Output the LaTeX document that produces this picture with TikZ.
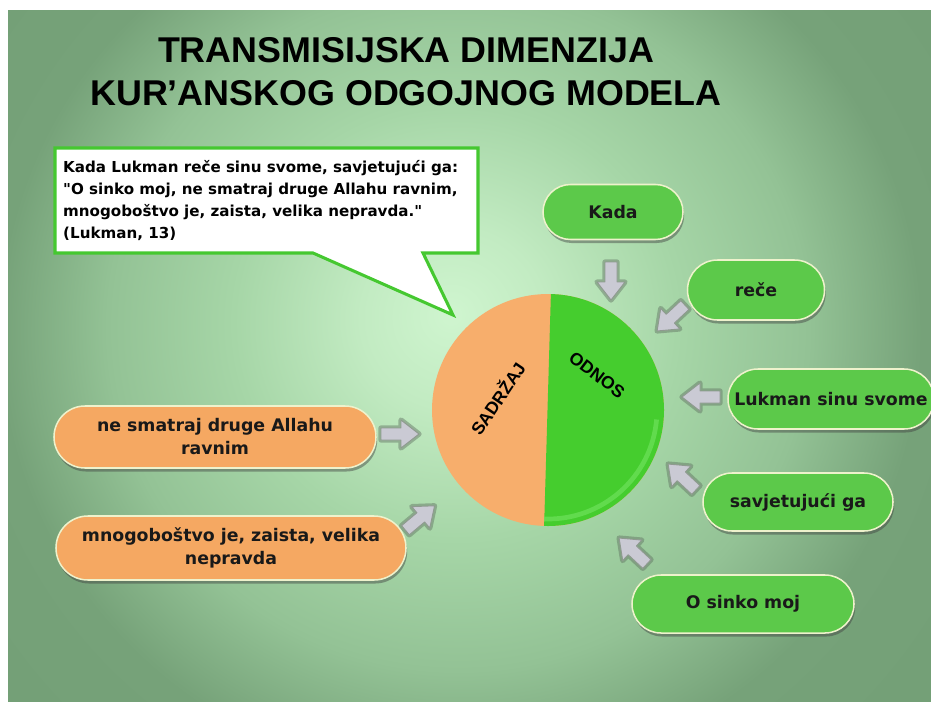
\documentclass[tikz,border=0pt]{standalone}
\usepackage{fontspec}
\setmainfont{DejaVu Sans}
\setmonofont{DejaVu Sans}
\newfontfamily\arialfont{Liberation Sans}
\usetikzlibrary{shapes.misc,shadows}
\definecolor{bgA}{HTML}{CFF5CF}
\definecolor{bgB}{HTML}{C2EBC2}
\definecolor{bgC}{HTML}{A6D6A7}
\definecolor{bgD}{HTML}{93C295}
\definecolor{bgE}{HTML}{76A279}
\definecolor{bgF}{HTML}{6E9A71}
\definecolor{pillG}{HTML}{5CC94A}
\definecolor{pillO}{HTML}{F5A862}
\definecolor{rimC}{HTML}{EEF2CC}
\definecolor{pieO}{HTML}{F7AE6C}
\definecolor{pieG}{HTML}{45CD2E}
\definecolor{pieGL}{HTML}{6BE058}
\definecolor{callG}{HTML}{45C830}
\definecolor{arrF}{HTML}{CACAD4}
\definecolor{arrE}{HTML}{5F6F60}
\newcommand{\sq}{{\ttfamily\bfseries "}}
\pgfdeclareradialshading{bgshade}{\pgfpoint{-1bp}{2bp}}{color(0bp)=(bgA); color(5bp)=(bgB); color(12bp)=(bgC); color(19bp)=(bgD); color(25bp)=(bgE); color(50bp)=(bgF)}
\tikzset{
  blockarrow/.pic={
    \path[draw=arrE, line width=4.5pt, draw opacity=.45, line join=round]
      (-19,-6) -- (1,-6) -- (1,-14) -- (19,0) -- (1,14) -- (1,6) -- (-19,6) -- cycle;
    \path[fill=arrF, draw=arrE!70, line width=.8pt, line join=round]
      (-19,-6) -- (1,-6) -- (1,-14) -- (19,0) -- (1,14) -- (1,6) -- (-19,6) -- cycle;
  },
  pill/.style={rounded rectangle, draw=rimC, line width=1.3pt, inner sep=0pt,
    align=center, font=\fontsize{14.8pt}{19.6pt}\selectfont\bfseries, text=black!90,
    drop shadow={shadow xshift=1pt, shadow yshift=-3pt, fill=black!75, opacity=.45}},
  gpill/.style={pill, fill=pillG},
  opill/.style={pill, fill=pillO},
  titletext/.style={anchor=base, inner sep=0pt, font=\arialfont\bfseries\fontsize{30.6pt}{36pt}\selectfont},
  pietext/.style={inner sep=0pt, font=\arialfont\bfseries\fontsize{15pt}{18pt}\selectfont}
}
\begin{document}
\begin{tikzpicture}[x=0.03cm, y=-0.03cm]
\useasboundingbox (0,0) rectangle (931,701);
\fill[white] (0,0) rectangle (931,701);
\begin{scope}
\clip (8,10) rectangle (931,701);
\shade[shading=bgshade] (8,-100) rectangle (931,801);

% title
\node[titletext] (t1) at (406,62) {TRANSMISIJSKA DIMENZIJA};
\node[titletext] (t2) at (406,105) {KUR’ANSKOG ODGOJNOG MODELA};

% callout
\path[fill=white, draw=callG, line width=2.6pt, line join=miter]
  (55,148) -- (478,148) -- (478,253) -- (423,253) -- (453,315) coordinate (tip)
  -- (313,253) -- (55,253) -- cycle;
\node[anchor=north west, inner sep=0pt, align=left,
  font=\fontsize{12.9pt}{18.7pt}\selectfont\bfseries] (quote) at (63,160)
  {Kada Lukman reče sinu svome, savjetujući ga:\\
   \sq O sinko moj, ne smatraj druge Allahu ravnim,\\
   mnogoboštvo je, zaista, velika nepravda.\sq\\
   (Lukman, 13)};

% pie
\coordinate (pc) at (548,410);
\fill[pieO] (pc) circle[radius=116];
\begin{scope}
  \clip (pc) circle[radius=116];
  \fill[pieG] (551,290) -- (700,290) -- (700,530) -- (544,530) -- cycle;
  \draw[pieGL, line width=4pt, opacity=.75] (pc) ++(92:109) arc[start angle=92, end angle=5, radius=109];
\end{scope}
\node[pietext, rotate=56] (sad) at (497,398) {SADRŽAJ};
\node[pietext, rotate=-37] (odn) at (597,375) {ODNOS};

% green pills
\node[gpill, minimum width=4.2cm, minimum height=1.65cm] (kada) at (613,212) {Kada};
\node[gpill, minimum width=4.11cm, minimum height=1.8cm] (rece) at (756,290) {reče};
\node[gpill, minimum width=6.18cm, minimum height=1.8cm] (lukman) at (831,399) {Lukman sinu svome};
\node[gpill, minimum width=5.7cm, minimum height=1.74cm] (savj) at (798,502) {savjetujući ga};
\node[gpill, minimum width=6.66cm, minimum height=1.74cm] (sinko) at (743,604) {O sinko moj};

% orange pills
\node[opill, minimum width=9.66cm, minimum height=1.86cm] (nesm) at (215,437) {ne smatraj druge Allahu\\ravnim};
\node[opill, minimum width=10.5cm, minimum height=1.92cm] (mnog) at (231,548) {mnogoboštvo je, zaista, velika\\nepravda};

% block arrows
\pic[rotate=-90] at (611,281) {blockarrow};
\pic[rotate=-137] at (671,318) {blockarrow};
\pic[rotate=180] at (701,397) {blockarrow};
\pic[rotate=137] at (682,477) {blockarrow};
\pic[rotate=137] at (633,551) {blockarrow};
\pic[rotate=0] at (400,434) {blockarrow};
\pic[rotate=40] at (420,518) {blockarrow};
\end{scope}
\end{tikzpicture}
\end{document}
